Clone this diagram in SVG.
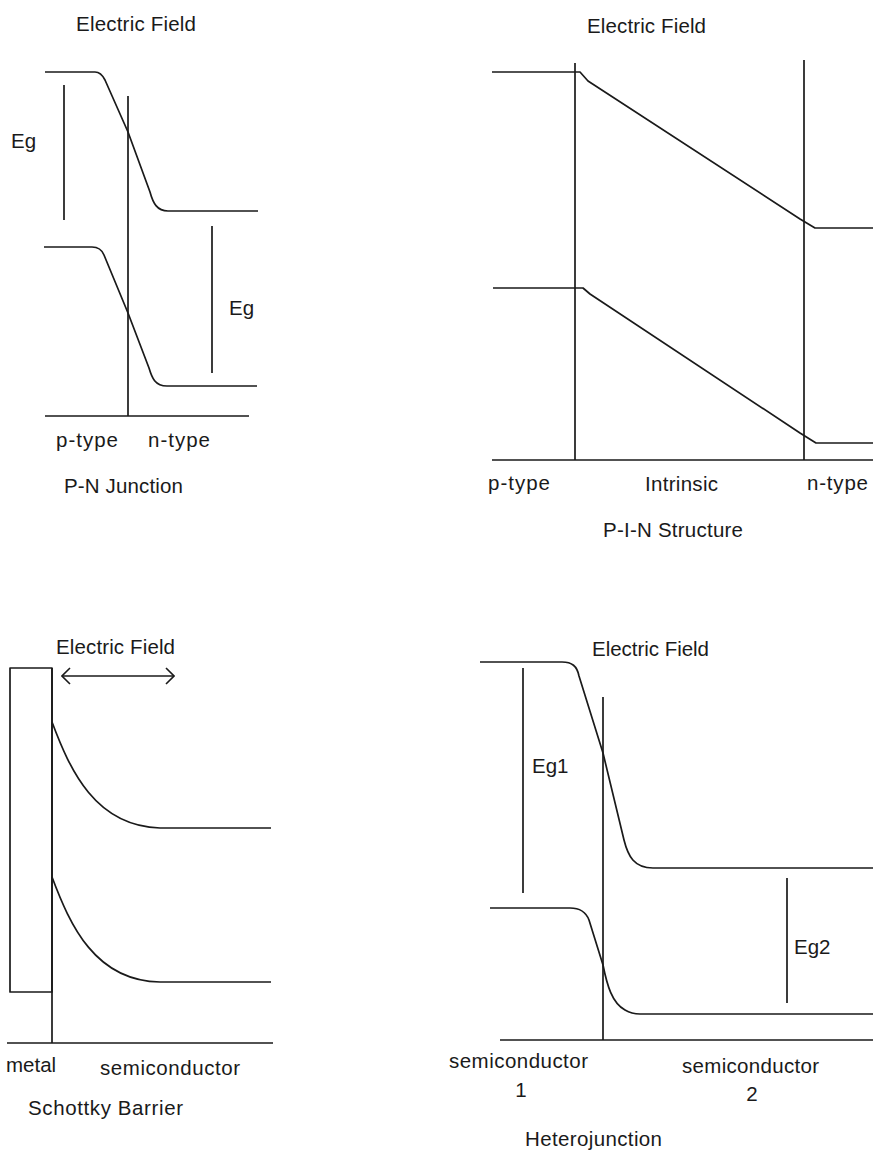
<svg xmlns="http://www.w3.org/2000/svg" width="873" height="1150" viewBox="0 0 873 1150">
<style>
.ln{fill:none;stroke:#1a1a1a;stroke-width:1.7;stroke-linejoin:round}
.t{font-family:"Liberation Sans",Arial,sans-serif;font-size:20.5px;fill:#1a1a1a}
</style>
<defs>
<marker id="chev" viewBox="0 0 10 20" refX="9" refY="10" markerWidth="10" markerHeight="20" markerUnits="userSpaceOnUse" orient="auto-start-reverse">
<path d="M1,2 L9,10 L1,18" fill="none" stroke="#1a1a1a" stroke-width="1.6"/>
</marker>
</defs>
<rect width="873" height="1150" fill="#fff"/>

<g id="pn-junction">
<text class="t" x="76" y="31" textLength="120" lengthAdjust="spacing">Electric Field</text>
<path class="ln" d="M45,72 H95 C100,72 103,76 105,80 L128,132 L150,192 C153,203 157,211 168,211 H258"/>
<path class="ln" d="M44,247 H92 C98,247 102,250 104,255 L128,313 L149,368 C152,378 155,386 167,386 H257"/>
<path class="ln" d="M128,96 V416 M45,416 H249 M64,85 V220 M212,226 V373"/>
<text class="t" x="11" y="148">Eg</text>
<text class="t" x="229" y="315">Eg</text>
<text class="t" x="56" y="447" textLength="62" lengthAdjust="spacing">p-type</text>
<text class="t" x="148" y="447" textLength="62" lengthAdjust="spacing">n-type</text>
<text class="t" x="64" y="493" textLength="119" lengthAdjust="spacing">P-N Junction</text>
</g>

<g id="pin-structure">
<text class="t" x="587" y="33" textLength="119" lengthAdjust="spacing">Electric Field</text>
<path class="ln" d="M492,72 H580 L588,81 L800,219 L815,228 H873"/>
<path class="ln" d="M493,288 H583 L590,294 L800,433 L816,443 H873"/>
<path class="ln" d="M575,63 V460 M804,60 V460 M492,460 H873"/>
<text class="t" x="488" y="490" textLength="62" lengthAdjust="spacing">p-type</text>
<text class="t" x="645" y="491" textLength="73" lengthAdjust="spacing">Intrinsic</text>
<text class="t" x="807" y="490" textLength="61" lengthAdjust="spacing">n-type</text>
<text class="t" x="603" y="537" textLength="140" lengthAdjust="spacing">P-I-N Structure</text>
</g>

<g id="schottky-barrier">
<text class="t" x="56" y="654" textLength="119" lengthAdjust="spacing">Electric Field</text>
<rect class="ln" x="10" y="668" width="42" height="324"/>
<path class="ln" d="M52,668 V1043 M7,1043 H273"/>
<path class="ln" d="M52,722 C70,770 95,826 160,828 H271"/>
<path class="ln" d="M52,877 C70,925 95,981 160,982 H271"/>
<text class="t" x="6" y="1072">metal</text>
<text class="t" x="100" y="1075" textLength="140" lengthAdjust="spacing">semiconductor</text>
<text class="t" x="28" y="1115" textLength="155" lengthAdjust="spacing">Schottky Barrier</text>
</g>

<g id="heterojunction">
<text class="t" x="592" y="656" textLength="117" lengthAdjust="spacing">Electric Field</text>
<path class="ln" d="M480,662 H562 C572,662 577,666 579,676 L603,753 L624,840 C628,856 634,868 653,868 H873"/>
<path class="ln" d="M490,908 H570 C580,908 586,912 589,920 L603,965 C607,985 612,1003 625,1010 C630,1013 634,1014 640,1014 H873"/>
<path class="ln" d="M603,697 V1040 M500,1040 H873 M523,668 V893 M787,878 V1003"/>
<text class="t" x="532" y="773">Eg1</text>
<text class="t" x="794" y="954">Eg2</text>
<text class="t" x="449" y="1068" textLength="139" lengthAdjust="spacing">semiconductor</text>
<text class="t" x="521" y="1097" text-anchor="middle">1</text>
<text class="t" x="682" y="1073" textLength="137" lengthAdjust="spacing">semiconductor</text>
<text class="t" x="752" y="1101" text-anchor="middle">2</text>
<text class="t" x="525" y="1146" textLength="137" lengthAdjust="spacing">Heterojunction</text>
</g>

<g id="connectors">
<line class="ln" x1="62" y1="676" x2="174" y2="676" marker-start="url(#chev)" marker-end="url(#chev)"/>
</g>
</svg>
